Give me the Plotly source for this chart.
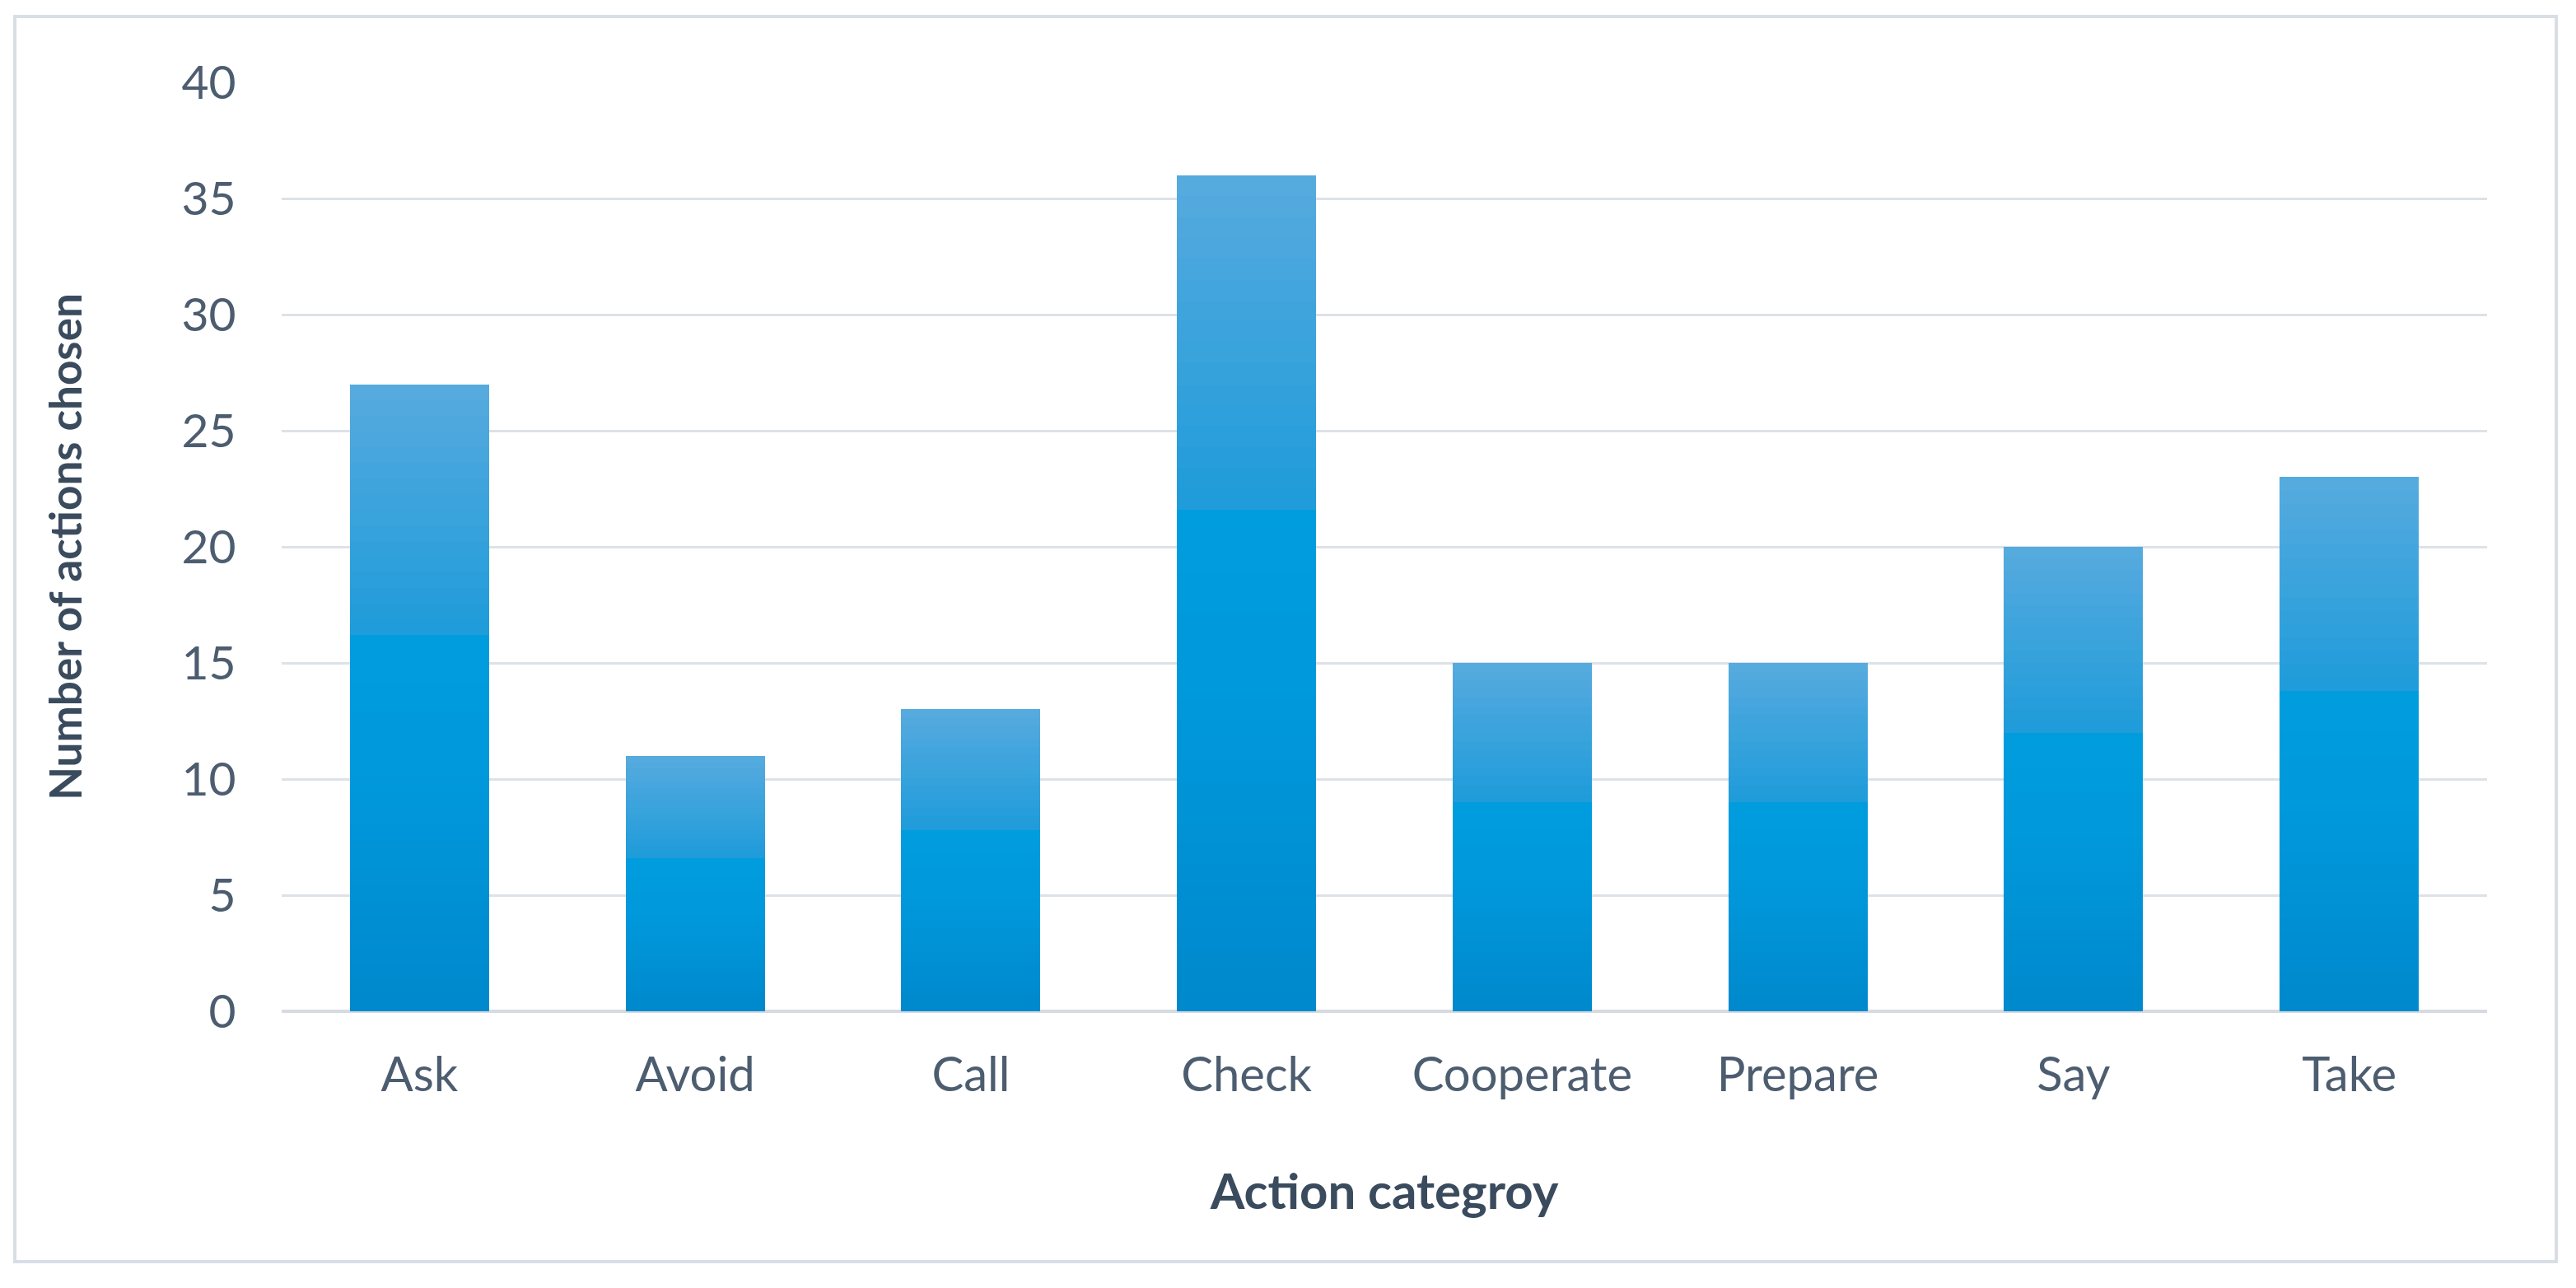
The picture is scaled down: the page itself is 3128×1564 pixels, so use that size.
import plotly.graph_objects as go

categories = ["Ask", "Avoid", "Call", "Check", "Cooperate", "Prepare", "Say", "Take"]
counts = [27, 11, 13, 36, 15, 15, 20, 23]
y_ticks = [0, 5, 10, 15, 20, 25, 30, 35, 40]

W, H = 3128, 1564
L, R, T, B = 342, 108, 100, 336

# vertical gradient stops (fraction from top of bar -> rgb)
stops = [(0.0, (0x57, 0xaa, 0xde)), (0.40, (0x1e, 0x9c, 0xda)),
         (0.41, (0x00, 0x9d, 0xde)), (0.65, (0x00, 0x98, 0xdb)),
         (1.0, (0x00, 0x88, 0xcc))]


def grad(f):
    for (f0, c0), (f1, c1) in zip(stops, stops[1:]):
        if f0 <= f <= f1:
            t = (f - f0) / (f1 - f0) if f1 > f0 else 0
            return "rgb(%d,%d,%d)" % tuple(round(a + (b - a) * t) for a, b in zip(c0, c1))
    return "rgb(0,136,204)"


N = 40
fig = go.Figure()
for i in range(N):
    frac_top = 1 - (i + 0.5) / N  # fraction from top of bar for this segment
    fig.add_trace(go.Bar(
        x=categories,
        y=[v / N for v in counts],
        marker=dict(color=grad(frac_top), line=dict(width=0)),
        showlegend=False,
        hoverinfo="skip" if i else "x+y",
    ))

tick_color = "#4d5d70"
title_color = "#3b4b5e"
font = "Lato, Carlito, Calibri, sans-serif"

fig.update_layout(
    width=W, height=H,
    margin=dict(l=L, r=R, t=T, b=B),
    barmode="stack",
    bargap=0.495,
    paper_bgcolor="white",
    plot_bgcolor="white",
    font=dict(family=font, color=tick_color),
    xaxis=dict(
        automargin=False,
        tickfont=dict(size=58, color=tick_color),
        ticks="outside", ticklen=26, tickcolor="rgba(0,0,0,0)",
        showline=False, showgrid=False, zeroline=False,
        title=dict(text="<b>Action categroy</b>", font=dict(size=60, color=title_color), standoff=90),
    ),
    yaxis=dict(
        automargin=False,
        range=[0, 40],
        tickvals=y_ticks,
        tickfont=dict(size=57, color=tick_color),
        ticks="outside", ticklen=43, tickcolor="rgba(0,0,0,0)",
        showgrid=True, gridcolor="#dde2e8", gridwidth=3,
        zeroline=True, zerolinecolor="#d6dbe2", zerolinewidth=4,
        showline=False,
        title=dict(text="<b>Number of actions chosen</b>", font=dict(size=53, color=title_color), standoff=103),
    ),
)

pw, ph = W - L - R, H - T - B
fig.add_shape(
    type="rect", xref="paper", yref="paper",
    x0=(18 - L) / pw, x1=(3104 - L) / pw,
    y0=(H - B - 1532) / ph, y1=(H - B - 20) / ph,
    line=dict(color="#d9dee5", width=4), fillcolor="rgba(0,0,0,0)", layer="below",
)

fig.write_html("out.html", config={"displayModeBar": False},
               post_script="document.body.style.margin='0px';")
